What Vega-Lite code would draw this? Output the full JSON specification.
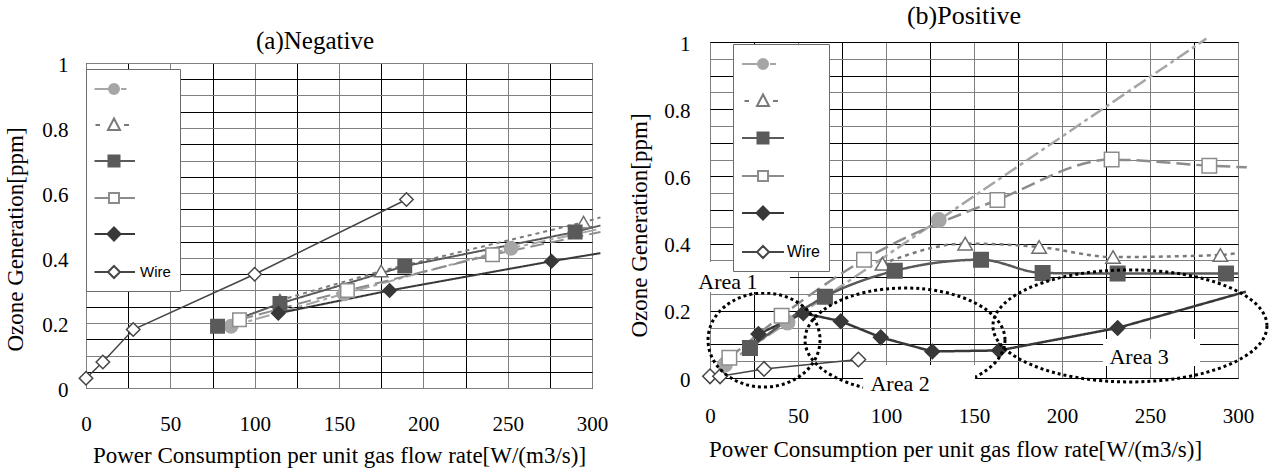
{
"$schema": "https://vega.github.io/schema/vega-lite/v6.json",
"background": "white",
"padding": {"left": 3, "top": 2, "right": 0, "bottom": 0},
"config": {"font": "Liberation Serif", "view": {"stroke": "#000000", "strokeWidth": 1}, "title": {"fontWeight": "normal", "color": "#000000", "font": "Liberation Serif"},
"style": {"guide-label": {"font": "Liberation Serif", "fill": "#000000"}, "guide-title": {"font": "Liberation Serif", "fontWeight": "normal", "fill": "#000000"}},
"axis": {"ticks": false, "tickSize": 0, "domain": false, "gridWidth": 1, "gridOpacity": 1, "labelFlush": false, "labelOverlap": false},
"axisY": {"labelFont": "Liberation Serif", "titleFont": "Liberation Serif"},
"axisLeft": {"labelFont": "Liberation Serif", "titleFont": "Liberation Serif"},
"axisX": {"labelFont": "Liberation Serif", "titleFont": "Liberation Serif"}},
"datasets": {
"pts": [
{"panel":"neg","series":"S1","x":86,"y":0.19,"m":1},{"panel":"neg","series":"S1","x":153,"y":0.29,"m":1},{"panel":"neg","series":"S1","x":252,"y":0.43,"m":1},{"panel":"neg","series":"S1","x":305,"y":0.49,"m":0},
{"panel":"neg","series":"S2","x":115,"y":0.27,"m":1},{"panel":"neg","series":"S2","x":175,"y":0.36,"m":1},{"panel":"neg","series":"S2","x":295,"y":0.51,"m":1},{"panel":"neg","series":"S2","x":305,"y":0.525,"m":0},
{"panel":"neg","series":"S3","x":78,"y":0.19,"m":1},{"panel":"neg","series":"S3","x":115,"y":0.26,"m":1},{"panel":"neg","series":"S3","x":189,"y":0.375,"m":1},{"panel":"neg","series":"S3","x":290,"y":0.48,"m":1},{"panel":"neg","series":"S3","x":305,"y":0.5,"m":0},
{"panel":"neg","series":"S4","x":91,"y":0.21,"m":1},{"panel":"neg","series":"S4","x":155,"y":0.3,"m":1},{"panel":"neg","series":"S4","x":241,"y":0.41,"m":1},{"panel":"neg","series":"S4","x":305,"y":0.48,"m":0},
{"panel":"neg","series":"S5","x":114,"y":0.23,"m":1},{"panel":"neg","series":"S5","x":180,"y":0.3,"m":1},{"panel":"neg","series":"S5","x":276,"y":0.39,"m":1},{"panel":"neg","series":"S5","x":305,"y":0.415,"m":0},
{"panel":"neg","series":"Wire","x":0,"y":0.03,"m":1},{"panel":"neg","series":"Wire","x":10,"y":0.08,"m":1},{"panel":"neg","series":"Wire","x":28,"y":0.18,"m":1},{"panel":"neg","series":"Wire","x":100,"y":0.35,"m":1},{"panel":"neg","series":"Wire","x":190,"y":0.58,"m":1},
{"panel":"pos","series":"S1","x":8.5,"y":0.04,"m":1},{"panel":"pos","series":"S1","x":44,"y":0.165,"m":1},{"panel":"pos","series":"S1","x":130,"y":0.47,"m":1},{"panel":"pos","series":"S1","x":282,"y":1.01,"m":0},
{"panel":"pos","series":"S2","x":98,"y":0.34,"m":1},{"panel":"pos","series":"S2","x":145,"y":0.4,"m":1},{"panel":"pos","series":"S2","x":187,"y":0.39,"m":1},{"panel":"pos","series":"S2","x":229,"y":0.36,"m":1},{"panel":"pos","series":"S2","x":290,"y":0.366,"m":1},{"panel":"pos","series":"S2","x":300,"y":0.372,"m":0},
{"panel":"pos","series":"S3","x":22.7,"y":0.089,"m":1},{"panel":"pos","series":"S3","x":65.3,"y":0.242,"m":1},{"panel":"pos","series":"S3","x":105,"y":0.319,"m":1},{"panel":"pos","series":"S3","x":154,"y":0.352,"m":1},{"panel":"pos","series":"S3","x":189,"y":0.3125,"m":1},{"panel":"pos","series":"S3","x":231.6,"y":0.311,"m":1},{"panel":"pos","series":"S3","x":293.2,"y":0.311,"m":1},{"panel":"pos","series":"S3","x":300,"y":0.311,"m":0},
{"panel":"pos","series":"S4","x":11,"y":0.06,"m":1},{"panel":"pos","series":"S4","x":40.7,"y":0.185,"m":1},{"panel":"pos","series":"S4","x":87.5,"y":0.352,"m":1},{"panel":"pos","series":"S4","x":163.3,"y":0.53,"m":1},{"panel":"pos","series":"S4","x":228.2,"y":0.65,"m":1},{"panel":"pos","series":"S4","x":283.7,"y":0.632,"m":1},{"panel":"pos","series":"S4","x":305,"y":0.627,"m":0},
{"panel":"pos","series":"S5","x":27.5,"y":0.131,"m":1},{"panel":"pos","series":"S5","x":53,"y":0.193,"m":1},{"panel":"pos","series":"S5","x":74.3,"y":0.169,"m":1},{"panel":"pos","series":"S5","x":97,"y":0.121,"m":1},{"panel":"pos","series":"S5","x":126.3,"y":0.079,"m":1},{"panel":"pos","series":"S5","x":164.2,"y":0.082,"m":1},{"panel":"pos","series":"S5","x":231.6,"y":0.149,"m":1},{"panel":"pos","series":"S5","x":304.5,"y":0.257,"m":0},
{"panel":"pos","series":"Wire","x":0,"y":0.005,"m":1},{"panel":"pos","series":"Wire","x":5.7,"y":0.005,"m":1},{"panel":"pos","series":"Wire","x":30.7,"y":0.027,"m":1},{"panel":"pos","series":"Wire","x":84.3,"y":0.055,"m":1}
],
"areas": [
{"area":"Area 1","cx":30.7,"cy":0.113,"lx":10.2,"ly":0.286},
{"area":"Area 2","cx":110.8,"cy":0.113,"lx":108,"ly":-0.018},
{"area":"Area 3","cx":238.6,"cy":0.155,"lx":243.8,"ly":0.0625}
]
},
"spacing": 18,
"hconcat": [
{
"vconcat": [
{"width": 506, "height": 1, "data": {"values": [{"a": 1}]}, "mark": {"type": "point", "opacity": 0}, "view": {"stroke": null}},
{
"width": 506, "height": 325,
"title": {"text": "(a)Negative", "fontSize": 25, "anchor": "middle", "frame": "group", "dx": -24, "offset": -20, "baseline": "alphabetic"},
"resolve": {"scale": {"shape": "independent", "fill": "independent", "stroke": "independent"}, "axis": {"x": "independent", "y": "independent"}},
"layer": [
{
"data": {"name": "pts"},
"transform": [{"filter": "datum.panel === 'neg' && datum.series !== 'Wire'"}],
"mark": {"type": "line", "strokeWidth": 2},
"encoding": {
"x": {"field": "x", "type": "quantitative", "scale": {"domain": [0, 300], "nice": false, "zero": false},
"axis": {"orient": "bottom", "title": "Power Consumption per unit gas flow rate[W/(m3/s)]", "values": [0,50,100,150,200,250,300], "grid": true, "gridColor": "#808080", "labelFont": "Liberation Serif, serif", "labelFontSize": 21, "labelColor": "#000000", "titleFont": "Liberation Serif, serif", "titleFontSize": 23, "titleFontWeight": "normal", "titleColor": "#000000", "labelBaseline": "middle", "labelPadding": 36, "titleY": 67, "titleBaseline": "middle"}},
"y": {"field": "y", "type": "quantitative", "scale": {"domain": [0, 1], "nice": false},
"axis": {"orient": "left", "title": "Ozone Generation[ppm]", "values": [0,0.1,0.2,0.3,0.4,0.5,0.6,0.7,0.8,0.9,1], "format": ".1~f", "labelExpr": "round(datum.value*10) % 2 === 0 ? datum.label : ''", "grid": true, "gridColor": "#808080", "labelFont": "Liberation Serif, serif", "labelFontSize": 21, "labelColor": "#000000", "titleFont": "Liberation Serif, serif", "titleFontSize": 23, "titleFontWeight": "normal", "titleColor": "#000000", "labelBaseline": "middle", "labelPadding": 18, "labelOffset": 2, "titleX": -64, "titleY": 176, "titleAngle": -90, "titleAlign": "center", "titleBaseline": "alphabetic"}},
"stroke": {"field": "series", "type": "nominal", "scale": {"domain": ["S1","S2","S3","S4","S5","Wire"], "range": ["#a6a6a6","#7a7a7a","#5a5a5a","#8c8c8c","#383838","#454545"]}, "legend": null},
"strokeDash": {"field": "series", "type": "nominal", "scale": {"domain": ["S1","S2","S3","S4","S5","Wire"], "range": [[14,4,4,4],[4,4],[1,0],[14,6],[1,0],[1,0]]}, "legend": null}
}
},
{
"data": {"name": "pts"},
"transform": [{"filter": "datum.panel === 'neg' && datum.series === 'Wire'"}],
"mark": {"type": "line", "strokeWidth": 1.5, "color": "#454545"},
"encoding": {
"x": {"field": "x", "type": "quantitative", "scale": {"domain": [0, 300], "nice": false, "zero": false},
"axis": {"orient": "bottom", "title": null, "values": [25,75,125,175,225,275], "labels": false, "grid": true, "gridColor": "#000000"}},
"y": {"field": "y", "type": "quantitative", "scale": {"domain": [0, 1], "nice": false},
"axis": {"orient": "left", "title": null, "values": [0.05,0.15,0.25,0.35,0.45,0.55,0.65,0.75,0.85,0.95], "labels": false, "grid": true, "gridColor": "#000000"}}
}
},
{
"data": {"name": "pts"},
"transform": [{"filter": "datum.panel === 'neg' && datum.m === 1"}],
"mark": {"type": "point", "filled": true, "opacity": 1, "size": 180, "strokeWidth": 1.5},
"encoding": {
"x": {"field": "x", "type": "quantitative", "scale": {"domain": [0, 300], "nice": false, "zero": false}, "axis": null},
"y": {"field": "y", "type": "quantitative", "scale": {"domain": [0, 1], "nice": false}, "axis": null},
"shape": {"field": "series", "type": "nominal", "scale": {"domain": ["S1","S2","S3","S4","S5","Wire"], "range": ["circle","triangle-up","square","square","diamond","diamond"]}, "legend": null},
"fill": {"field": "series", "type": "nominal", "scale": {"domain": ["S1","S2","S3","S4","S5","Wire"], "range": ["#a6a6a6","#ffffff","#5a5a5a","#ffffff","#383838","#ffffff"]}, "legend": null},
"stroke": {"field": "series", "type": "nominal", "scale": {"domain": ["S1","S2","S3","S4","S5","Wire"], "range": ["#a6a6a6","#6e6e6e","#5a5a5a","#8c8c8c","#383838","#454545"]}, "legend": null}
}
},
{
"data": {"name": "pts"},
"transform": [{"filter": "datum.panel === 'none'"}],
"mark": {"type": "point", "filled": true, "opacity": 1, "size": 400, "strokeWidth": 2},
"encoding": {
"x": {"field": "x", "type": "quantitative", "scale": {"domain": [0, 300], "nice": false, "zero": false}, "axis": null},
"y": {"field": "y", "type": "quantitative", "scale": {"domain": [0, 1], "nice": false}, "axis": null},
"shape": {"field": "series", "type": "nominal", "scale": {"domain": ["S1","S2","S3","S4","S5","Wire"], "range": ["M-1.95,0H-0.5M0.7,0H1.25M0.5,0C0.5,0.276 0.276,0.5 0,0.5C-0.276,0.5 -0.5,0.276 -0.5,0C-0.5,-0.276 -0.276,-0.5 0,-0.5C0.276,-0.5 0.5,-0.276 0.5,0Z","M-1.85,0H-1.4M1,0H1.5M0,-0.65L0.6,0.5L-0.6,0.5Z","M-1.95,0H-0.55M0.55,0H2.1M-0.55,-0.55H0.55V0.55H-0.55Z","M-1.95,0H-0.5M0.5,0H2.1M-0.5,-0.5H0.5V0.5H-0.5Z","M-1.95,0H2.1M0,-0.65L0.65,0L0,0.65L-0.65,0Z","M-1.95,0H-0.6M0.6,0H2.1M0,-0.6L0.6,0L0,0.6L-0.6,0Z"]},
"legend": {"title": null, "orient": "none", "legendX": 0, "legendY": 6, "fillColor": "#ffffff", "strokeColor": "#6b6b6b", "padding": 9, "symbolSize": 400, "symbolStrokeWidth": 2, "symbolOffset": 8, "rowPadding": 16, "labelOffset": 15, "labelFont": "Liberation Sans", "labelFontSize": 15, "labelColor": "#000000", "labelExpr": "datum.label === 'Wire' ? 'Wire' : ''", "symbolOpacity": 1}},
"fill": {"field": "series", "type": "nominal", "scale": {"domain": ["S1","S2","S3","S4","S5","Wire"], "range": ["#a6a6a6","#ffffff","#5a5a5a","#ffffff","#383838","#ffffff"]},
"legend": {"title": null, "orient": "none", "legendX": 0, "legendY": 6, "fillColor": "#ffffff", "strokeColor": "#6b6b6b", "padding": 9, "symbolSize": 400, "symbolStrokeWidth": 2, "symbolOffset": 8, "rowPadding": 16, "labelOffset": 15, "labelFont": "Liberation Sans", "labelFontSize": 15, "labelColor": "#000000", "labelExpr": "datum.label === 'Wire' ? 'Wire' : ''", "symbolOpacity": 1}},
"stroke": {"field": "series", "type": "nominal", "scale": {"domain": ["S1","S2","S3","S4","S5","Wire"], "range": ["#a6a6a6","#7a7a7a","#5a5a5a","#8c8c8c","#383838","#454545"]},
"legend": {"title": null, "orient": "none", "legendX": 0, "legendY": 6, "fillColor": "#ffffff", "strokeColor": "#6b6b6b", "padding": 9, "symbolSize": 400, "symbolStrokeWidth": 2, "symbolOffset": 8, "rowPadding": 16, "labelOffset": 15, "labelFont": "Liberation Sans", "labelFontSize": 15, "labelColor": "#000000", "labelExpr": "datum.label === 'Wire' ? 'Wire' : ''", "symbolOpacity": 1}}
}
}
]
}
],
"spacing": 20,
"bounds": "flush"
},
{
"width": 528, "height": 336,
"title": {"text": "(b)Positive", "fontSize": 26, "anchor": "middle", "frame": "group", "dx": -10, "offset": -17, "baseline": "alphabetic"},
"resolve": {"scale": {"shape": "independent", "fill": "independent", "stroke": "independent"}, "axis": {"x": "independent", "y": "independent"}},
"layer": [
{
"data": {"name": "pts"},
"transform": [{"filter": "datum.panel === 'pos' && (datum.series === 'S1' || datum.series === 'S5')"}],
"mark": {"type": "line", "strokeWidth": 2.5},
"encoding": {
"x": {"field": "x", "type": "quantitative", "scale": {"domain": [0, 300], "nice": false, "zero": false},
"axis": {"orient": "bottom", "title": "Power Consumption per unit gas flow rate[W/(m3/s)]", "values": [0,50,100,150,200,250,300], "grid": true, "gridColor": "#808080", "labelFont": "Liberation Serif, serif", "labelFontSize": 21, "labelColor": "#000000", "titleFont": "Liberation Serif, serif", "titleFontSize": 23, "titleFontWeight": "normal", "titleColor": "#000000", "labelBaseline": "middle", "labelPadding": 38, "titleX": 245, "titleY": 71, "titleBaseline": "middle"}},
"y": {"field": "y", "type": "quantitative", "scale": {"domain": [0, 1], "nice": false},
"axis": {"orient": "left", "title": "Ozone Generation[ppm]", "values": [0,0.1,0.2,0.3,0.4,0.5,0.6,0.7,0.8,0.9,1], "format": ".1~f", "labelExpr": "round(datum.value*10) % 2 === 0 ? datum.label : ''", "grid": true, "gridColor": "#000000", "labelFont": "Liberation Serif, serif", "labelFontSize": 21, "labelColor": "#000000", "titleFont": "Liberation Serif, serif", "titleFontSize": 23, "titleFontWeight": "normal", "titleColor": "#000000", "labelBaseline": "middle", "labelPadding": 20, "labelOffset": 2, "titleX": -64, "titleY": 183, "titleAngle": -90, "titleAlign": "center", "titleBaseline": "alphabetic"}},
"stroke": {"field": "series", "type": "nominal", "scale": {"domain": ["S1","S2","S3","S4","S5","Wire"], "range": ["#a6a6a6","#7a7a7a","#5a5a5a","#8c8c8c","#383838","#454545"]}, "legend": null},
"strokeDash": {"field": "series", "type": "nominal", "scale": {"domain": ["S1","S2","S3","S4","S5","Wire"], "range": [[14,4,4,4],[4,4],[1,0],[14,6],[1,0],[1,0]]}, "legend": null}
}
},
{
"data": {"name": "pts"},
"transform": [{"filter": "datum.panel === 'pos' && datum.series === 'Wire'"}],
"mark": {"type": "line", "strokeWidth": 1.5, "color": "#454545"},
"encoding": {
"x": {"field": "x", "type": "quantitative", "scale": {"domain": [0, 300], "nice": false, "zero": false},
"axis": {"orient": "bottom", "title": null, "values": [25,75,125,175,225,275], "labels": false, "grid": true, "gridColor": "#000000"}},
"y": {"field": "y", "type": "quantitative", "scale": {"domain": [0, 1], "nice": false},
"axis": {"orient": "left", "title": null, "values": [0.05,0.15,0.25,0.35,0.45,0.55,0.65,0.75,0.85,0.95], "labels": false, "grid": true, "gridColor": "#808080"}}
}
},
{
"data": {"name": "pts"},
"transform": [{"filter": "datum.panel === 'pos' && (datum.series === 'S2' || datum.series === 'S3' || datum.series === 'S4')"}],
"mark": {"type": "line", "strokeWidth": 2.5, "interpolate": "monotone"},
"encoding": {
"x": {"field": "x", "type": "quantitative", "scale": {"domain": [0, 300], "nice": false, "zero": false}, "axis": null},
"y": {"field": "y", "type": "quantitative", "scale": {"domain": [0, 1], "nice": false}, "axis": null},
"stroke": {"field": "series", "type": "nominal", "scale": {"domain": ["S1","S2","S3","S4","S5","Wire"], "range": ["#a6a6a6","#7a7a7a","#5a5a5a","#8c8c8c","#383838","#454545"]}, "legend": null},
"strokeDash": {"field": "series", "type": "nominal", "scale": {"domain": ["S1","S2","S3","S4","S5","Wire"], "range": [[14,4,4,4],[4,4],[1,0],[14,6],[1,0],[1,0]]}, "legend": null}
}
},
{
"data": {"name": "pts"},
"transform": [{"filter": "datum.panel === 'pos' && datum.m === 1"}],
"mark": {"type": "point", "filled": true, "opacity": 1, "size": 210, "strokeWidth": 1.5},
"encoding": {
"x": {"field": "x", "type": "quantitative", "scale": {"domain": [0, 300], "nice": false, "zero": false}, "axis": null},
"y": {"field": "y", "type": "quantitative", "scale": {"domain": [0, 1], "nice": false}, "axis": null},
"shape": {"field": "series", "type": "nominal", "scale": {"domain": ["S1","S2","S3","S4","S5","Wire"], "range": ["circle","triangle-up","square","square","diamond","diamond"]}, "legend": null},
"fill": {"field": "series", "type": "nominal", "scale": {"domain": ["S1","S2","S3","S4","S5","Wire"], "range": ["#a6a6a6","#ffffff","#5a5a5a","#ffffff","#383838","#ffffff"]}, "legend": null},
"stroke": {"field": "series", "type": "nominal", "scale": {"domain": ["S1","S2","S3","S4","S5","Wire"], "range": ["#a6a6a6","#6e6e6e","#5a5a5a","#8c8c8c","#383838","#454545"]}, "legend": null}
}
},
{
"data": {"name": "areas"},
"mark": {"type": "point", "filled": false, "opacity": 1, "size": 40000, "stroke": "#000000", "strokeWidth": 3, "strokeDash": [3, 3]},
"encoding": {
"x": {"field": "cx", "type": "quantitative", "scale": {"domain": [0, 300], "nice": false, "zero": false}, "axis": null},
"y": {"field": "cy", "type": "quantitative", "scale": {"domain": [0, 1], "nice": false}, "axis": null},
"shape": {"field": "area", "type": "nominal", "scale": {"domain": ["Area 1","Area 2","Area 3"], "range": ["M0.56,0C0.56,0.26 0.309,0.47 0,0.47C-0.309,0.47 -0.56,0.26 -0.56,0C-0.56,-0.26 -0.309,-0.47 0,-0.47C0.309,-0.47 0.56,-0.26 0.56,0Z","M1,0C1,0.287 0.552,0.52 0,0.52C-0.552,0.52 -1,0.287 -1,0C-1,-0.287 -0.552,-0.52 0,-0.52C0.552,-0.52 1,-0.287 1,0Z","M1.37,0C1.37,0.309 0.757,0.56 0,0.56C-0.757,0.56 -1.37,0.309 -1.37,0C-1.37,-0.309 -0.757,-0.56 0,-0.56C0.757,-0.56 1.37,-0.309 1.37,0Z"]}, "legend": null}
}
},
{
"data": {"name": "areas"},
"mark": {"type": "point", "filled": true, "opacity": 1, "size": 40000, "fill": "#ffffff", "strokeWidth": 0},
"encoding": {
"x": {"field": "lx", "type": "quantitative", "scale": {"domain": [0, 300], "nice": false, "zero": false}, "axis": null},
"y": {"field": "ly", "type": "quantitative", "scale": {"domain": [0, 1], "nice": false}, "axis": null},
"shape": {"field": "area", "type": "nominal", "scale": {"domain": ["Area 1","Area 2","Area 3"], "range": ["M-0.3,-0.2H0.62V0.1H-0.3Z","M-0.37,-0.19H0.75V0.15H-0.37Z","M-0.36,-0.18H0.61V0.09H-0.36Z"]}, "legend": null}
}
},
{
"data": {"name": "areas"},
"mark": {"type": "text", "font": "Liberation Serif", "fontSize": 22, "align": "center", "baseline": "middle", "color": "#000000"},
"encoding": {
"x": {"field": "lx", "type": "quantitative", "scale": {"domain": [0, 300], "nice": false, "zero": false}, "axis": null},
"y": {"field": "ly", "type": "quantitative", "scale": {"domain": [0, 1], "nice": false}, "axis": null},
"text": {"field": "area"}
}
},
{
"data": {"name": "pts"},
"transform": [{"filter": "datum.panel === 'none'"}],
"mark": {"type": "point", "filled": true, "opacity": 1, "size": 400, "strokeWidth": 2},
"encoding": {
"x": {"field": "x", "type": "quantitative", "scale": {"domain": [0, 300], "nice": false, "zero": false}, "axis": null},
"y": {"field": "y", "type": "quantitative", "scale": {"domain": [0, 1], "nice": false}, "axis": null},
"shape": {"field": "series", "type": "nominal", "scale": {"domain": ["S1","S2","S3","S4","S5","Wire"], "range": ["M-2.1,0H-0.5M0.7,0H1.3M0.5,0C0.5,0.276 0.276,0.5 0,0.5C-0.276,0.5 -0.5,0.276 -0.5,0C-0.5,-0.276 -0.276,-0.5 0,-0.5C0.276,-0.5 0.5,-0.276 0.5,0Z","M-1.85,0H-1.4M1,0H1.5M0,-0.65L0.6,0.5L-0.6,0.5Z","M-2.1,0H-0.55M0.55,0H2.1M-0.55,-0.55H0.55V0.55H-0.55Z","M-2.1,0H-0.5M0.5,0H2.1M-0.5,-0.5H0.5V0.5H-0.5Z","M-2.1,0H2.1M0,-0.65L0.65,0L0,0.65L-0.65,0Z","M-2.1,0H-0.6M0.6,0H2.1M0,-0.6L0.6,0L0,0.6L-0.6,0Z"]},
"legend": {"title": null, "orient": "none", "legendX": 23, "legendY": 2, "fillColor": "#ffffff", "strokeColor": "#6b6b6b", "padding": 9, "symbolSize": 400, "symbolStrokeWidth": 2, "symbolOffset": 10, "rowPadding": 17, "labelOffset": 13, "labelFont": "Liberation Sans", "labelFontSize": 16, "labelColor": "#000000", "labelExpr": "datum.label === 'Wire' ? 'Wire' : ''", "symbolOpacity": 1}},
"fill": {"field": "series", "type": "nominal", "scale": {"domain": ["S1","S2","S3","S4","S5","Wire"], "range": ["#a6a6a6","#ffffff","#5a5a5a","#ffffff","#383838","#ffffff"]},
"legend": {"title": null, "orient": "none", "legendX": 23, "legendY": 2, "fillColor": "#ffffff", "strokeColor": "#6b6b6b", "padding": 9, "symbolSize": 400, "symbolStrokeWidth": 2, "symbolOffset": 10, "rowPadding": 17, "labelOffset": 13, "labelFont": "Liberation Sans", "labelFontSize": 16, "labelColor": "#000000", "labelExpr": "datum.label === 'Wire' ? 'Wire' : ''", "symbolOpacity": 1}},
"stroke": {"field": "series", "type": "nominal", "scale": {"domain": ["S1","S2","S3","S4","S5","Wire"], "range": ["#a6a6a6","#7a7a7a","#5a5a5a","#8c8c8c","#383838","#454545"]},
"legend": {"title": null, "orient": "none", "legendX": 23, "legendY": 2, "fillColor": "#ffffff", "strokeColor": "#6b6b6b", "padding": 9, "symbolSize": 400, "symbolStrokeWidth": 2, "symbolOffset": 10, "rowPadding": 17, "labelOffset": 13, "labelFont": "Liberation Sans", "labelFontSize": 16, "labelColor": "#000000", "labelExpr": "datum.label === 'Wire' ? 'Wire' : ''", "symbolOpacity": 1}}
}
}
]
}
]
}
